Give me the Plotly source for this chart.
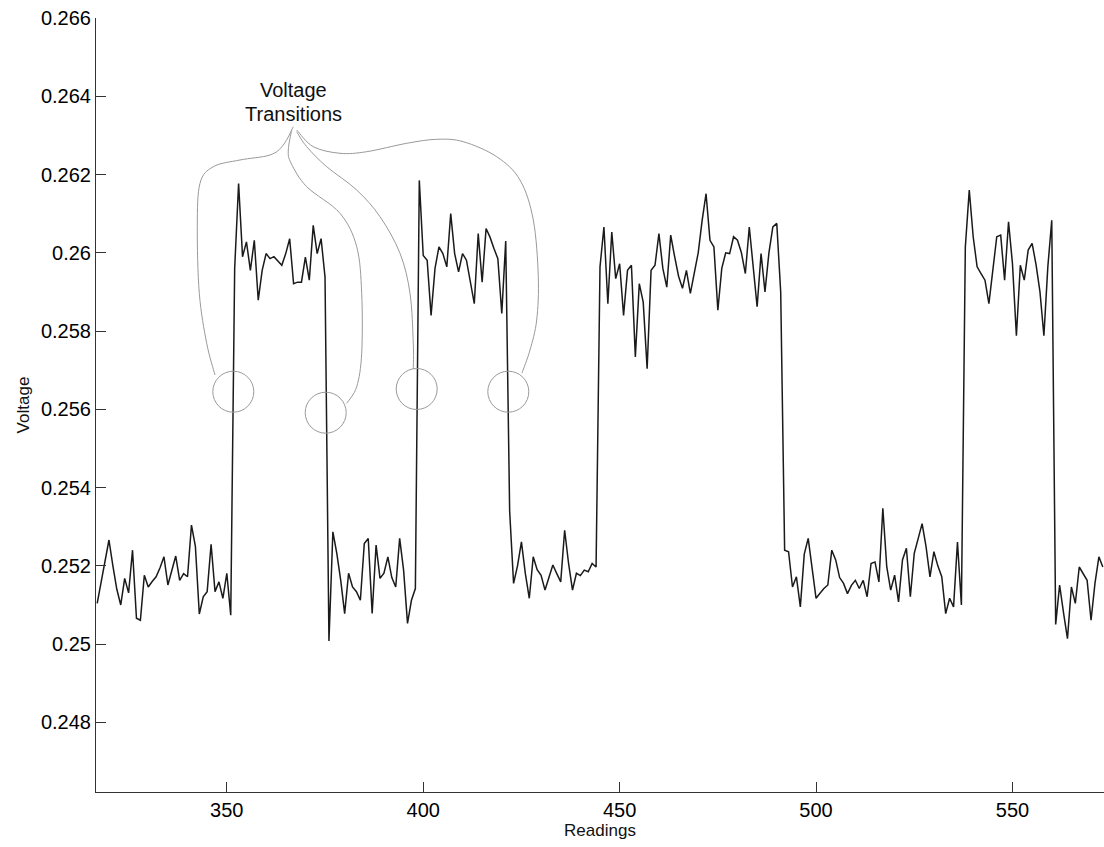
import plotly.graph_objects as go

# ---------------- data ----------------
first_reading = 317
voltage = [
    0.25104, 0.25160, 0.25210, 0.25266, 0.25200, 0.25140, 0.25100, 0.25168, 0.25131, 0.25240,
    0.25066, 0.25061, 0.25176, 0.25146, 0.25160, 0.25172, 0.25195, 0.25223, 0.25151, 0.25190,
    0.25225, 0.25163, 0.25180, 0.25172, 0.25304, 0.25250, 0.25077, 0.25121, 0.25134, 0.25255,
    0.25134, 0.25159, 0.25117, 0.25181, 0.25074, 0.25960, 0.26177, 0.25990, 0.26028, 0.25955,
    0.26032, 0.25879, 0.25955, 0.25998, 0.25985, 0.25990, 0.25980, 0.25968, 0.25998, 0.26036,
    0.25921, 0.25925, 0.25925, 0.25989, 0.25930, 0.26070, 0.25998, 0.26036, 0.25938, 0.25008,
    0.25287, 0.25232, 0.25163, 0.25078, 0.25181, 0.25146, 0.25134, 0.25112, 0.25257, 0.25270,
    0.25078, 0.25253, 0.25168, 0.25181, 0.25223, 0.25170, 0.25146, 0.25270, 0.25189, 0.25053,
    0.25112, 0.25142, 0.26185, 0.25993, 0.25981, 0.25840, 0.25960, 0.26015, 0.25998, 0.25964,
    0.26100, 0.25998, 0.25951, 0.25998, 0.25981, 0.25930, 0.25870, 0.26049, 0.25925, 0.26062,
    0.26040, 0.26011, 0.25985, 0.25845, 0.26030, 0.25340, 0.25155, 0.25200, 0.25261, 0.25180,
    0.25117, 0.25223, 0.25190, 0.25176, 0.25138, 0.25170, 0.25202, 0.25180, 0.25159, 0.25291,
    0.25206, 0.25138, 0.25181, 0.25175, 0.25189, 0.25185, 0.25206, 0.25197, 0.25964, 0.26066,
    0.25870, 0.26053, 0.25934, 0.25972, 0.25840, 0.25955, 0.25968, 0.25734, 0.25921, 0.25874,
    0.25704, 0.25955, 0.25968, 0.26049, 0.25960, 0.25912, 0.26045, 0.25990, 0.25940, 0.25909,
    0.25955, 0.25896, 0.25950, 0.26000, 0.26083, 0.26151, 0.26032, 0.26015, 0.25853, 0.25960,
    0.26000, 0.25998, 0.26041, 0.26032, 0.26000, 0.25947, 0.26066, 0.25960, 0.25862, 0.25998,
    0.25900, 0.26000, 0.26066, 0.26075, 0.25900, 0.25240, 0.25236, 0.25146, 0.25172, 0.25095,
    0.25230, 0.25270, 0.25189, 0.25117, 0.25130, 0.25142, 0.25151, 0.25240, 0.25215, 0.25170,
    0.25155, 0.25129, 0.25150, 0.25163, 0.25142, 0.25163, 0.25121, 0.25206, 0.25210, 0.25159,
    0.25347, 0.25197, 0.25138, 0.25176, 0.25108, 0.25215, 0.25245, 0.25121, 0.25232, 0.25270,
    0.25308, 0.25249, 0.25172, 0.25236, 0.25200, 0.25172, 0.25078, 0.25117, 0.25095, 0.25261,
    0.25100, 0.26015, 0.26160, 0.26041, 0.25964, 0.25947, 0.25930, 0.25870, 0.25955, 0.26041,
    0.26045, 0.25930, 0.26079, 0.25972, 0.25788, 0.25968, 0.25930, 0.26007, 0.26024, 0.25970,
    0.25900, 0.25788, 0.25964, 0.26083, 0.25050, 0.25151, 0.25080, 0.25014, 0.25146, 0.25104,
    0.25197, 0.25180, 0.25163, 0.25061, 0.25155, 0.25223, 0.25197,
]
readings = list(range(first_reading, first_reading + len(voltage)))

x_tick_vals = [350, 400, 450, 500, 550]
x_tick_text = ["350", "400", "450", "500", "550"]
y_tick_vals = [0.248, 0.250, 0.252, 0.254, 0.256, 0.258, 0.260, 0.262, 0.264, 0.266]
y_tick_text = ["0.248", "0.25", "0.252", "0.254", "0.256", "0.258", "0.26", "0.262", "0.264", "0.266"]

annotation_lines = ["Voltage", "Transitions"]
x_title = "Readings"
y_title = "Voltage"

# ---------------- layout geometry ----------------
W, H = 1104, 847
ML, MR, MT, MB = 96, 0, 18, 55
PW, PH = W - ML - MR, H - MT - MB
X_RANGE = [316.7, 573.3]
Y_RANGE = [0.24622, 0.266]
FONT = "Liberation Sans, Arial, Helvetica, sans-serif"
GRAY = "#9a9a9a"


def px2paper(px, py):
    return (px - ML) / PW, (H - MB - py) / PH


def smooth_path(points):
    """Catmull-Rom -> cubic Bezier path in paper coords from pixel points."""
    pts = [px2paper(*p) for p in points]
    d = "M {:.5f},{:.5f}".format(*pts[0])
    for i in range(len(pts) - 1):
        p0 = pts[i - 1] if i > 0 else pts[i]
        p1 = pts[i]
        p2 = pts[i + 1]
        p3 = pts[i + 2] if i + 2 < len(pts) else pts[i + 1]
        c1 = (p1[0] + (p2[0] - p0[0]) / 6, p1[1] + (p2[1] - p0[1]) / 6)
        c2 = (p2[0] - (p3[0] - p1[0]) / 6, p2[1] - (p3[1] - p1[1]) / 6)
        d += " C {:.5f},{:.5f} {:.5f},{:.5f} {:.5f},{:.5f}".format(*c1, *c2, *p2)
    return d


# annotation leader curves (pixel positions of the hand-drawn callouts)
curves = [
    [(293.3, 126.7), (283.3, 145), (270, 155), (240, 160), (213.3, 166.7), (200, 183.3),
     (197.3, 226.7), (199.3, 293.3), (206.7, 343.3), (215, 375)],
    [(291.7, 130), (288.3, 150), (291, 163), (306.7, 186.7), (340, 213.3), (356.7, 246.7),
     (361.7, 293.3), (361.7, 353.3), (356.7, 386.7), (346.7, 403.3)],
    [(296.7, 131.7), (306.7, 146.7), (326.7, 166.7), (356.7, 190), (380, 216.7), (400, 253.3),
     (410, 293.3), (413.3, 343.3), (413.3, 369)],
    [(296.7, 130), (313.3, 146.7), (340, 153.3), (366.7, 151.7), (406.7, 143.3), (436.7, 139.3),
     (463.3, 141.7), (496.7, 156.7), (520, 180), (533.3, 220), (538.3, 276.7), (536.7, 320),
     (530, 350), (522, 373)],
]
circles = [(233.3, 391.7), (325.7, 412.7), (416.7, 389.0), (508.3, 391.7)]
R = 20.5

shapes = []
for c in curves:
    shapes.append(dict(type="path", xref="paper", yref="paper", path=smooth_path(c),
                       line=dict(color=GRAY, width=1)))
for cx, cy in circles:
    x0, y0 = px2paper(cx - R, cy + R)
    x1, y1 = px2paper(cx + R, cy - R)
    shapes.append(dict(type="circle", xref="paper", yref="paper", x0=x0, y0=y0, x1=x1, y1=y1,
                       line=dict(color=GRAY, width=1)))

annotations = []
for txt, py in zip(annotation_lines, [90, 113.5]):
    ax, ay = px2paper(293.3, py)
    annotations.append(dict(text=txt, x=ax, y=ay, xref="paper", yref="paper", showarrow=False,
                            xanchor="center", yanchor="middle",
                            font=dict(family=FONT, size=20, color="#111111")))

fig = go.Figure()
fig.add_trace(go.Scatter(x=readings, y=voltage, mode="lines",
                         line=dict(color="#1a1a1a", width=1.5), showlegend=False,
                         hoverinfo="x+y"))

axis_common = dict(showline=True, linecolor="#333333", linewidth=1, ticks="inside",
                   ticklen=10, tickwidth=1, tickcolor="#333333", showgrid=False,
                   zeroline=False, mirror=False,
                   tickfont=dict(family=FONT, size=20, color="#000000"))

fig.update_layout(
    width=W, height=H,
    margin=dict(l=ML, r=MR, t=MT, b=MB, pad=0),
    paper_bgcolor="white", plot_bgcolor="white",
    xaxis=dict(range=X_RANGE, tickvals=x_tick_vals, ticktext=x_tick_text,
               title=dict(text=x_title, font=dict(family=FONT, size=17, color="#111111"),
                          standoff=4),
               **axis_common),
    yaxis=dict(range=Y_RANGE, tickvals=y_tick_vals, ticktext=y_tick_text,
               title=dict(text=y_title, font=dict(family=FONT, size=17, color="#111111"),
                          standoff=6),
               **axis_common),
    shapes=shapes,
    annotations=annotations,
)

fig.write_html("out.html")
